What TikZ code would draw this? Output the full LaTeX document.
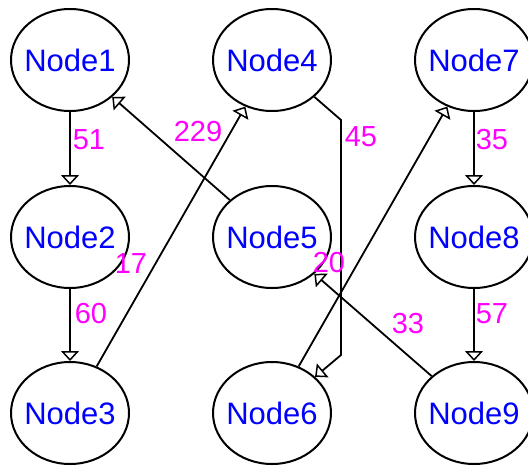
\documentclass[tikz,border=0pt]{standalone}
\usepackage{fontspec}
\setmainfont{Liberation Sans}
\usetikzlibrary{arrows.meta,shapes.geometric}
\definecolor{nodeblue}{RGB}{0,0,255}
\definecolor{weightmag}{RGB}{255,0,255}
\begin{document}
\begin{tikzpicture}[x=1pt,y=-1pt,
  vertex/.style={draw, ellipse, line width=2pt, minimum width=118pt,
    minimum height=102pt, inner xsep=-6pt, inner ysep=0pt, text=nodeblue,
    font=\fontsize{31}{31}\selectfont},
  link/.style={draw, line width=1.8pt,
    -{Triangle[open, length=10pt, width=18pt, line width=1.5pt]}},
  weight/.style={text=weightmag, inner sep=0pt,
    font=\fontsize{29}{29}\selectfont}
]
\useasboundingbox (0,0) rectangle (528,467);
\clip (0,0) rectangle (528,467);

% vertices, three columns by three rows
\node[vertex] (n1) at (70,60)   {Node1};
\node[vertex] (n2) at (70,237)  {Node2};
\node[vertex] (n3) at (70,413)  {Node3};
\node[vertex] (n4) at (272,60)  {Node4};
\node[vertex] (n5) at (272,237) {Node5};
\node[vertex] (n6) at (272,413) {Node6};
\node[vertex] (n7) at (474,60)  {Node7};
\node[vertex] (n8) at (474,237) {Node8};
\node[vertex] (n9) at (474,413) {Node9};

% bend points of the routed edge Node4 -> Node6
\coordinate (b1) at (341,120);
\coordinate (b2) at (341,355);

% directed edges
\draw[link] (n1) -- (n2);
\draw[link] (n2) -- (n3);
\draw[link] (n3) -- (n4);
\draw[link] (n5) -- (n1);
\draw[link] (n4) -- (b1) -- (b2) -- (n6);
\draw[link] (n6) -- (n7);
\draw[link] (n9) -- (n5);
\draw[link] (n7) -- (n8);
\draw[link] (n8) -- (n9);

% edge weights
\node[weight] (w51)  at (89,140)  {51};
\node[weight] (w60)  at (91,314)  {60};
\node[weight] (w17)  at (131,264) {17};
\node[weight] (w229) at (198,132) {229};
\node[weight] (w45)  at (361,137) {45};
\node[weight] (w20)  at (329,263) {20};
\node[weight] (w33)  at (408,324) {33};
\node[weight] (w35)  at (492,140) {35};
\node[weight] (w57)  at (492,314) {57};
\end{tikzpicture}
\end{document}
